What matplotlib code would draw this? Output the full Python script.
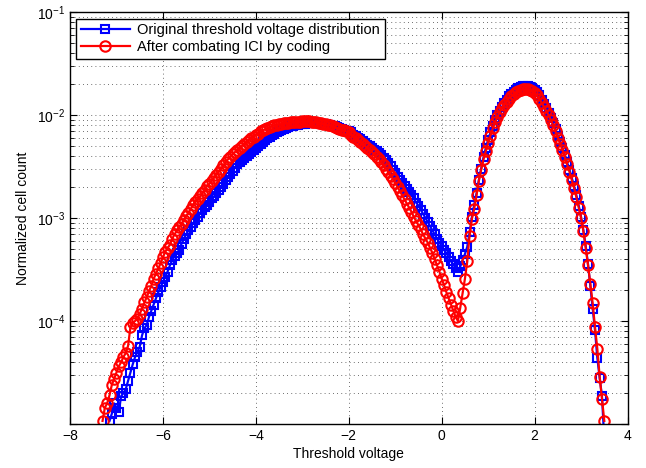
import numpy as np
import matplotlib.pyplot as plt

plt.rcParams['font.family'] = ['Liberation Sans', 'DejaVu Sans']

# threshold voltage bins (step 0.05 V)
x_orig = np.round(np.arange(-7.15, 3.5001, 0.05), 2)
x_coded = np.round(np.arange(-7.30, 3.5001, 0.05), 2)

# log10 of normalized cell count
log_orig = [
    -4.97, -4.90, -4.80, -4.84, -4.88, -4.73, -4.70, -4.66, -4.58, -4.50,
    -4.42, -4.35, -4.30, -4.25, -4.14, -4.07, -4.04, -3.96, -3.90, -3.84,
    -3.78, -3.72, -3.67, -3.62, -3.57, -3.52, -3.46, -3.41, -3.37, -3.34,
    -3.31, -3.25, -3.20, -3.16, -3.12, -3.09, -3.05, -3.02, -2.99, -2.95,
    -2.92, -2.89, -2.87, -2.84, -2.81, -2.79, -2.76, -2.73, -2.70, -2.67,
    -2.63, -2.60, -2.57, -2.54, -2.51, -2.48, -2.46, -2.44, -2.42, -2.40,
    -2.38, -2.36, -2.34, -2.32, -2.30, -2.28, -2.26, -2.24, -2.22, -2.21,
    -2.19, -2.18, -2.17, -2.16, -2.15, -2.14, -2.13, -2.12, -2.11, -2.11,
    -2.10, -2.10, -2.09, -2.09, -2.09, -2.08, -2.08, -2.08, -2.08, -2.08,
    -2.08, -2.09, -2.09, -2.09, -2.10, -2.10, -2.11, -2.11, -2.12, -2.13,
    -2.14, -2.15, -2.16, -2.16, -2.17, -2.19, -2.20, -2.22, -2.23, -2.25,
    -2.27, -2.29, -2.30, -2.32, -2.34, -2.35, -2.37, -2.39, -2.42, -2.44,
    -2.47, -2.50, -2.53, -2.56, -2.60, -2.63, -2.66, -2.69, -2.72, -2.75,
    -2.78, -2.81, -2.85, -2.88, -2.92, -2.96, -3.00, -3.04, -3.08, -3.12,
    -3.16, -3.20, -3.24, -3.27, -3.31, -3.34, -3.38, -3.42, -3.45, -3.49,
    -3.52, -3.47, -3.41, -3.35, -3.28, -3.14, -2.99, -2.87, -2.76, -2.63,
    -2.52, -2.41, -2.32, -2.24, -2.17, -2.11, -2.05, -2.00, -1.96, -1.92,
    -1.88, -1.85, -1.82, -1.80, -1.78, -1.76, -1.74, -1.73, -1.72, -1.72,
    -1.72, -1.73, -1.74, -1.76, -1.78, -1.81, -1.85, -1.89, -1.93, -1.98,
    -2.03, -2.08, -2.14, -2.20, -2.26, -2.32, -2.39, -2.46, -2.53, -2.61,
    -2.69, -2.78, -2.88, -2.99, -3.12, -3.27, -3.45, -3.66, -3.88, -4.09,
    -4.36, -4.55, -4.73, -5.15,
]

log_coded = [
    -4.97, -4.84, -4.80, -4.72, -4.62, -4.56, -4.50, -4.44, -4.40, -4.35,
    -4.31, -4.24, -4.06, -4.02, -4.00, -3.98, -3.93, -3.88, -3.82, -3.77,
    -3.71, -3.66, -3.59, -3.54, -3.49, -3.44, -3.38, -3.33, -3.29, -3.26,
    -3.20, -3.16, -3.12, -3.09, -3.06, -3.02, -2.98, -2.95, -2.91, -2.87,
    -2.84, -2.82, -2.79, -2.76, -2.73, -2.69, -2.67, -2.64, -2.61, -2.58,
    -2.55, -2.52, -2.49, -2.46, -2.43, -2.41, -2.38, -2.36, -2.34, -2.32,
    -2.30, -2.28, -2.26, -2.24, -2.22, -2.21, -2.19, -2.18, -2.16, -2.15,
    -2.14, -2.13, -2.12, -2.11, -2.10, -2.10, -2.09, -2.09, -2.08, -2.08,
    -2.08, -2.07, -2.07, -2.07, -2.07, -2.07, -2.06, -2.06, -2.06, -2.06,
    -2.07, -2.07, -2.07, -2.08, -2.08, -2.09, -2.09, -2.10, -2.10, -2.11,
    -2.12, -2.13, -2.14, -2.15, -2.15, -2.16, -2.17, -2.19, -2.21, -2.22,
    -2.24, -2.26, -2.28, -2.30, -2.32, -2.34, -2.36, -2.38, -2.41, -2.43,
    -2.46, -2.49, -2.52, -2.55, -2.59, -2.62, -2.66, -2.70, -2.74, -2.78,
    -2.82, -2.86, -2.90, -2.94, -2.99, -3.03, -3.07, -3.11, -3.16, -3.20,
    -3.24, -3.29, -3.34, -3.40, -3.46, -3.52, -3.59, -3.65, -3.72, -3.78,
    -3.84, -3.90, -3.96, -4.00, -3.87, -3.73, -3.59, -3.42, -3.17, -3.01,
    -2.91, -2.78, -2.64, -2.53, -2.43, -2.35, -2.27, -2.20, -2.13, -2.07,
    -2.02, -1.97, -1.93, -1.90, -1.87, -1.84, -1.82, -1.80, -1.78, -1.77,
    -1.76, -1.75, -1.75, -1.75, -1.76, -1.77, -1.79, -1.81, -1.84, -1.88,
    -1.92, -1.96, -2.00, -2.05, -2.10, -2.16, -2.22, -2.28, -2.34, -2.41,
    -2.48, -2.55, -2.63, -2.71, -2.80, -2.90, -3.00, -3.13, -3.29, -3.46,
    -3.64, -3.83, -4.06, -4.27, -4.54, -4.76, -4.97,
]

x_ticks = [-8, -6, -4, -2, 0, 2, 4]
x_ticklabels = ['\u22128', '\u22126', '\u22124', '\u22122', '0', '2', '4']
y_ticks = [1e-5, 1e-4, 1e-3, 1e-2, 1e-1]
y_ticklabels = ['', r'$\mathdefault{10^{-4}}$', r'$\mathdefault{10^{-3}}$',
                r'$\mathdefault{10^{-2}}$', r'$\mathdefault{10^{-1}}$']

y_orig = 10.0 ** np.array(log_orig)
y_coded = 10.0 ** np.array(log_coded)

fig = plt.figure(figsize=(6.46, 4.68), dpi=100)
ax = fig.add_axes([0.1084, 0.094, 0.863, 0.8804])

ax.semilogy(x_orig, y_orig, '-s', color=(0, 0, 1), lw=1.6, ms=5.5,
            mfc='none', mew=1.5, label='Original threshold voltage distribution')
ax.semilogy(x_coded, y_coded, '-o', color=(1, 0, 0), lw=1.6, ms=7.5,
            mfc='none', mew=1.5, label='After combating ICI by coding')

ax.set_xlim(-8, 4)
ax.set_ylim(1e-5, 1e-1)
ax.set_xticks(x_ticks)
ax.set_xticklabels(x_ticklabels)
ax.set_yticks(y_ticks)
ax.set_yticklabels(y_ticklabels)

ax.grid(True, which='major', linestyle=(0, (1, 4)), color='0.25', lw=0.6)
ax.grid(True, which='minor', axis='y', linestyle=(0, (1, 4)), color='0.25', lw=0.6)
ax.tick_params(which='both', direction='in', top=True, right=True, labelsize=10)
ax.tick_params(which='major', length=5)
ax.tick_params(which='minor', length=3)
for s in ax.spines.values():
    s.set_linewidth(1.0)

ax.set_xlabel('Threshold voltage', fontsize=10, labelpad=3)
ax.set_ylabel('Normalized cell count', fontsize=10, labelpad=5)

leg = ax.legend(loc='upper left', bbox_to_anchor=(0.011, 0.983), borderaxespad=0,
                fontsize=10.5, handlelength=3.4, fancybox=False, framealpha=1,
                edgecolor='k', borderpad=0.3, labelspacing=0.2, handletextpad=0.5)
leg.get_frame().set_linewidth(1.0)

fig.savefig('out.png', dpi=100)
